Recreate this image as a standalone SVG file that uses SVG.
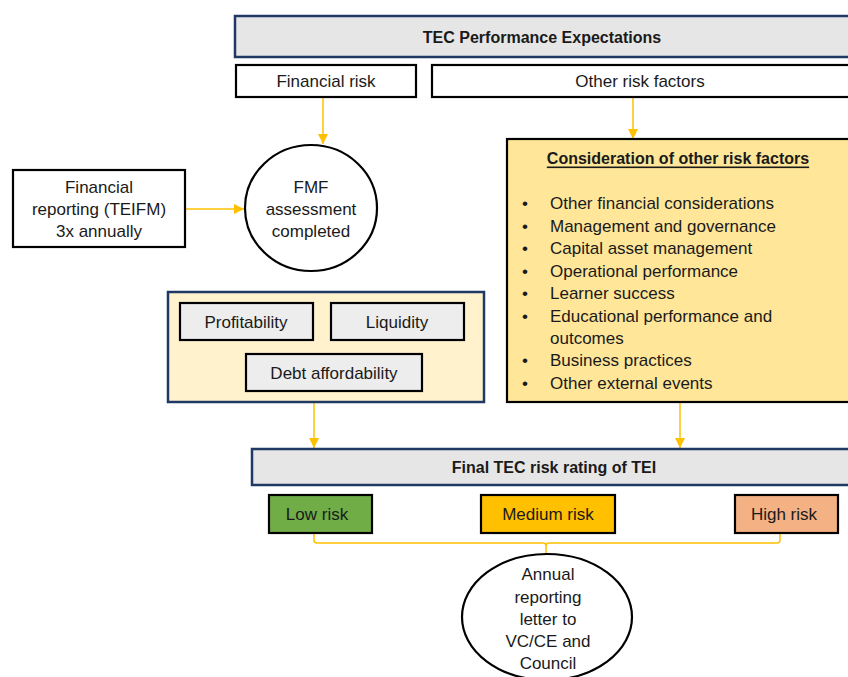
<svg xmlns="http://www.w3.org/2000/svg" width="848" height="677" viewBox="0 0 848 677">
<defs>
<style>
text{font-family:"Liberation Sans",Arial,sans-serif;font-size:17px;fill:#1a1a1a;text-anchor:middle;dominant-baseline:central}
.b{font-weight:bold;font-size:16px}
.navy{fill:#E7E6E6;stroke:#1F3864;stroke-width:2.5}
.blk{stroke:#000;stroke-width:2.2}
.con{fill:none;stroke:#FFC000;stroke-width:1.5}
.l{text-anchor:start}
</style>
<marker id="ah" viewBox="0 0 10 10" refX="10" refY="5" markerWidth="10" markerHeight="10" markerUnits="userSpaceOnUse" orient="auto">
<path d="M0,0 L10,5 L0,10 z" fill="#FFC000"/>
</marker>
</defs>
<rect width="848" height="677" fill="#fff"/>

<g id="connectors">
<line class="con" x1="323" y1="97" x2="323" y2="144" marker-end="url(#ah)"/>
<line class="con" x1="633" y1="97" x2="633" y2="139" marker-end="url(#ah)"/>
<line class="con" x1="185" y1="209" x2="244" y2="209" marker-end="url(#ah)"/>
<line class="con" x1="314" y1="402" x2="314" y2="448" marker-end="url(#ah)"/>
<line class="con" x1="680" y1="402" x2="680" y2="448" marker-end="url(#ah)"/>
<path class="con" d="M314,534 V540 Q314,543 317,543 H543 Q546,543 546,546 V553 M546,546 Q546,543 549,543 H777 Q780,543 780,540 V534"/>
</g>

<g id="tec-performance">
<rect class="navy" x="235" y="16" width="616" height="41"/>
<text class="b" x="542" y="37">TEC Performance Expectations</text>
</g>

<g id="financial-risk">
<rect class="blk" x="236" y="65" width="180" height="32" fill="#fff"/>
<text x="326" y="81">Financial risk</text>
</g>

<g id="other-risk">
<rect class="blk" x="432" y="65" width="418" height="32" fill="#fff"/>
<text x="640" y="81">Other risk factors</text>
</g>

<g id="financial-reporting">
<rect class="blk" x="13" y="170" width="172" height="77" fill="#fff"/>
<text x="99" y="187">Financial</text>
<text x="99" y="209">reporting (TEIFM)</text>
<text x="99" y="231">3x annually</text>
</g>

<g id="fmf">
<ellipse class="blk" cx="311" cy="208" rx="66" ry="63" fill="#fff"/>
<text x="311" y="187">FMF</text>
<text x="311" y="209">assessment</text>
<text x="311" y="231">completed</text>
</g>

<g id="consideration">
<rect class="blk" x="507" y="139" width="345" height="263" fill="#FFE699"/>
<text class="b" x="678" y="158" text-decoration="underline">Consideration of other risk factors</text>
<g>
<text x="525" y="203">•</text><text class="l" x="550" y="203">Other financial considerations</text>
<text x="525" y="226">•</text><text class="l" x="550" y="226">Management and governance</text>
<text x="525" y="248">•</text><text class="l" x="550" y="248">Capital asset management</text>
<text x="525" y="271">•</text><text class="l" x="550" y="271">Operational performance</text>
<text x="525" y="293">•</text><text class="l" x="550" y="293">Learner success</text>
<text x="525" y="316">•</text><text class="l" x="550" y="316">Educational performance and</text>
<text class="l" x="550" y="338">outcomes</text>
<text x="525" y="360">•</text><text class="l" x="550" y="360">Business practices</text>
<text x="525" y="383">•</text><text class="l" x="550" y="383">Other external events</text>
</g>
</g>

<g id="ratios">
<rect x="168" y="292" width="316" height="110" fill="#FFF2CC" stroke="#1F3864" stroke-width="2.5"/>
<g id="profitability">
<rect class="blk" x="180" y="303" width="133" height="37" fill="#EDEDED"/>
<text x="246" y="322">Profitability</text>
</g>
<g id="liquidity">
<rect class="blk" x="331" y="303" width="133" height="37" fill="#EDEDED"/>
<text x="397" y="322">Liquidity</text>
</g>
<g id="debt">
<rect class="blk" x="246" y="354" width="176" height="37" fill="#EDEDED"/>
<text x="334" y="373">Debt affordability</text>
</g>
</g>

<g id="final-rating">
<rect class="navy" x="252" y="449" width="600" height="36"/>
<text class="b" x="554" y="467">Final TEC risk rating of TEI</text>
</g>

<g id="low-risk">
<rect class="blk" x="269" y="495" width="103" height="38" fill="#70AD47"/>
<text x="317" y="514">Low risk</text>
</g>
<g id="medium-risk">
<rect class="blk" x="481" y="495" width="134" height="38" fill="#FFC000"/>
<text x="548" y="514">Medium risk</text>
</g>
<g id="high-risk">
<rect class="blk" x="735" y="495" width="103" height="38" fill="#F4B183"/>
<text x="784" y="514">High risk</text>
</g>

<g id="annual-letter">
<ellipse class="blk" cx="547" cy="617" rx="85" ry="63" fill="#fff"/>
<text x="548" y="574">Annual</text>
<text x="548" y="597">reporting</text>
<text x="548" y="619">letter to</text>
<text x="548" y="641">VC/CE and</text>
<text x="548" y="663">Council</text>
</g>
</svg>
